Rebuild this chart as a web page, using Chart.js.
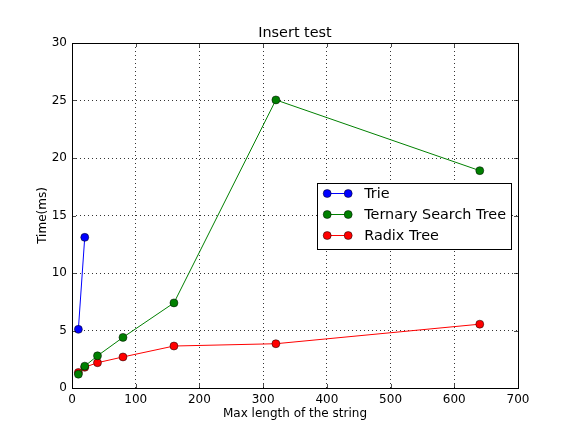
<!DOCTYPE html>
<html>
<head>
<meta charset="utf-8">
<script src="https://cdn.jsdelivr.net/npm/chart.js@4/dist/chart.umd.min.js"></script>
<style>
html, body { margin: 0; padding: 0; background: #ffffff; }
canvas { display: block; }
</style>
</head>
<body>
<canvas id="c" width="576" height="432"></canvas>
<script>
// ---- data ----
const seriesNames = ["Trie", "Ternary Search Tree", "Radix Tree"];
const trieX = [10, 20];
const trieY = [5.1, 13.1];
const ternaryX = [10, 20, 40, 80, 160, 320, 640];
const ternaryY = [1.2, 1.9, 2.8, 4.4, 7.4, 25.05, 18.9];
const radixX = [10, 20, 40, 80, 160, 320, 640];
const radixY = [1.35, 1.8, 2.2, 2.7, 3.65, 3.85, 5.55];
const xTicks = [0, 100, 200, 300, 400, 500, 600, 700];
const yTicks = [0, 5, 10, 15, 20, 25, 30];
const titleText = "Insert test";
const xLabel = "Max length of the string";
const yLabel = "Time(ms)";

const FONT = "'DejaVu Sans', 'Liberation Sans', sans-serif";
const colors = ["#0000ff", "#008000", "#ff0000"];

function pts(xs, ys) { return xs.map((x, i) => ({ x: x, y: ys[i] })); }

function ds(label, data, color) {
  return {
    label: label,
    data: data,
    borderColor: color,
    backgroundColor: color,
    borderWidth: 1,
    pointRadius: 4,
    pointHoverRadius: 4,
    pointBackgroundColor: color,
    pointBorderColor: "#000000",
    pointBorderWidth: 0.5,
    tension: 0,
    fill: false
  };
}

const framePlugin = {
  id: "frameTicks",
  afterDraw(chart) {
    const ctx = chart.ctx;
    const a = chart.chartArea;
    const xs = chart.scales.x, ys = chart.scales.y;
    ctx.save();
    ctx.strokeStyle = "#000000";
    ctx.lineWidth = 0.7;
    ctx.beginPath();
    xTicks.forEach(v => {
      const p = Math.round(xs.getPixelForValue(v)) + 0.5;
      ctx.moveTo(p, a.bottom); ctx.lineTo(p, a.bottom - 4);
      ctx.moveTo(p, a.top); ctx.lineTo(p, a.top + 4);
    });
    yTicks.forEach(v => {
      const p = Math.round(ys.getPixelForValue(v)) + 0.5;
      ctx.moveTo(a.left, p); ctx.lineTo(a.left + 4, p);
      ctx.moveTo(a.right, p); ctx.lineTo(a.right - 4, p);
    });
    ctx.stroke();
    ctx.lineWidth = 1;
    ctx.strokeRect(Math.round(a.left) + 0.5, Math.round(a.top) + 0.5,
                   Math.round(a.right - a.left), Math.round(a.bottom - a.top));
    // title centred over the plot area
    ctx.fillStyle = "#000000";
    ctx.font = "14.4px " + FONT;
    ctx.textAlign = "center";
    ctx.textBaseline = "middle";
    ctx.fillText(titleText, (a.left + a.right) / 2, a.top - 10);
    ctx.restore();
  }
};

const legendPlugin = {
  id: "innerLegend",
  afterDraw(chart) {
    const ctx = chart.ctx;
    const a = chart.chartArea;
    ctx.save();
    ctx.font = "14.4px " + FONT;
    let tw = 0;
    chart.data.datasets.forEach(d => { tw = Math.max(tw, ctx.measureText(d.label).width); });
    const rowH = 21;
    const n = chart.data.datasets.length;
    const boxW = 47 + tw + 5;
    const boxH = n * rowH + 3;
    const right = a.right - 7;
    const left = right - boxW;
    const top = (a.top + a.bottom) / 2 - boxH / 2;
    ctx.fillStyle = "#ffffff";
    ctx.fillRect(left, top, boxW, boxH);
    ctx.strokeStyle = "#000000";
    ctx.lineWidth = 1;
    ctx.strokeRect(Math.round(left) + 0.5, Math.round(top) + 0.5, Math.round(boxW), Math.round(boxH));
    chart.data.datasets.forEach((d, i) => {
      const cy = top + 11 + i * rowH;
      const x1 = left + 10, x2 = left + 31;
      ctx.strokeStyle = d.borderColor;
      ctx.lineWidth = 1;
      ctx.beginPath(); ctx.moveTo(x1, cy); ctx.lineTo(x2, cy); ctx.stroke();
      [x1, x2].forEach(px => {
        ctx.beginPath();
        ctx.arc(px, cy, 4, 0, Math.PI * 2);
        ctx.fillStyle = d.backgroundColor;
        ctx.fill();
        ctx.lineWidth = 0.5;
        ctx.strokeStyle = "#000000";
        ctx.stroke();
      });
      ctx.fillStyle = "#000000";
      ctx.textBaseline = "middle";
      ctx.textAlign = "left";
      ctx.fillText(d.label, left + 47, cy + 1);
    });
    ctx.restore();
  }
};

new Chart(document.getElementById("c"), {
  type: "line",
  data: {
    datasets: [
      ds(seriesNames[0], pts(trieX, trieY), colors[0]),
      ds(seriesNames[1], pts(ternaryX, ternaryY), colors[1]),
      ds(seriesNames[2], pts(radixX, radixY), colors[2])
    ]
  },
  options: {
    responsive: false,
    animation: false,
    devicePixelRatio: 1,
    layout: { padding: { left: 0, right: 58, top: 43, bottom: 0 } },
    plugins: {
      legend: { display: false },
      tooltip: { enabled: false },
      title: { display: false }
    },
    scales: {
      x: {
        type: "linear",
        min: 0, max: 700,
        afterBuildTicks(scale) { scale.ticks = xTicks.map(v => ({ value: v })); },
        afterFit(scale) { scale.height = 44; },
        ticks: {
          color: "#000000",
          font: { family: FONT, size: 12 },
          padding: 5,
          maxRotation: 0
        },
        grid: { color: "#000000", lineWidth: 0.8, drawTicks: false, tickLength: 0 },
        border: { display: false, dash: [1, 3] },
        title: {
          display: true, text: xLabel, color: "#000000",
          font: { family: FONT, size: 12, lineHeight: 1.2 },
          padding: { top: 0, bottom: 11 }
        }
      },
      y: {
        type: "linear",
        min: 0, max: 30,
        afterBuildTicks(scale) { scale.ticks = yTicks.map(v => ({ value: v })); },
        afterFit(scale) { scale.width = 72; },
        ticks: {
          color: "#000000",
          font: { family: FONT, size: 12 },
          padding: 5
        },
        grid: { color: "#000000", lineWidth: 0.8, drawTicks: false, tickLength: 0 },
        border: { display: false, dash: [1, 3] },
        title: {
          display: true, text: yLabel, color: "#000000",
          font: { family: FONT, size: 12, lineHeight: 1.2 },
          padding: { top: 36, bottom: 0 }
        }
      }
    }
  },
  plugins: [framePlugin, legendPlugin]
});
</script>
</body>
</html>
